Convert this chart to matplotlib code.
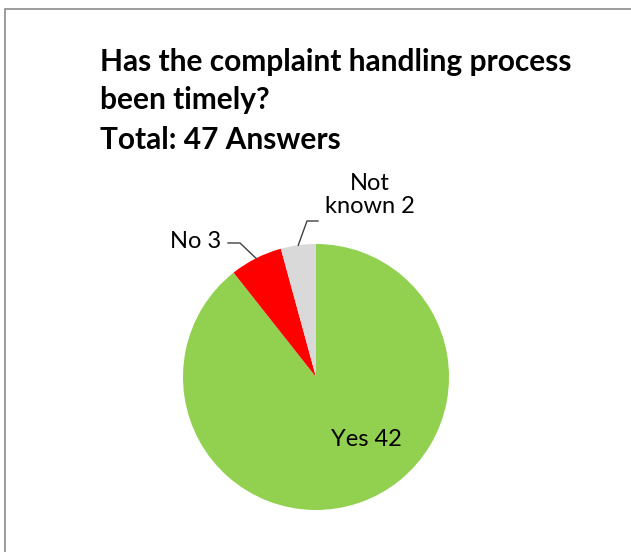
import numpy as np
import matplotlib
matplotlib.use("Agg")
import matplotlib.pyplot as plt
from matplotlib.patches import Rectangle

categories = ["Yes", "No", "Not known"]
values = [42, 3, 2]
colors = ["#92D050", "#FF0000", "#D9D9D9"]
title_lines = ["Has the complaint handling process", "been timely?", "Total: 47 Answers"]

W, H = 631, 552
plt.rcParams['font.family'] = ['Lato', 'DejaVu Sans']
fig = plt.figure(figsize=(W / 100, H / 100), dpi=100)

cx, cy, R = 316, 377, 133
ax = fig.add_axes([0, 0, 1, 1])

wedges, _ = ax.pie(values, colors=colors, startangle=90, counterclock=False,
                   radius=1.0, center=(0, 0), frame=True,
                   wedgeprops=dict(linewidth=0))
ax.set_xlim(-cx / R, (W - cx) / R)
ax.set_ylim((cy - H) / R, cy / R)
ax.set_aspect('equal')
ax.axis('off')

def px(x, y):
    return ((x - cx) / R, (cy - y) / R)

def mid_edge(w, r=1.0):
    a = np.deg2rad((w.theta1 + w.theta2) / 2)
    return r * np.cos(a), r * np.sin(a)

fs_lab = 17
# Yes label
ax.text(*px(366, 440), f"{categories[0]} {values[0]}", ha='center', va='center', fontsize=fs_lab)
# No label
ax.text(*px(221, 241), f"{categories[1]} {values[1]}", ha='right', va='center', fontsize=fs_lab)
e = mid_edge(wedges[1])
p1, p2 = px(228, 243), px(240, 243)
ax.plot([p1[0], p2[0], e[0]], [p1[1], p2[1], e[1]], color='#404040', lw=1)
# Not known label
ax.text(*px(370, 195), "Not\nknown " + str(values[2]), ha='center', va='center',
        fontsize=fs_lab, linespacing=1.1)
e = mid_edge(wedges[2])
p1, p2 = px(318, 221), px(307, 221)
ax.plot([p1[0], p2[0], e[0]], [p1[1], p2[1], e[1]], color='#404040', lw=1)

# Title
for t, y in zip(title_lines, [62, 100, 140]):
    fig.text(100 / W, 1 - y / H, t, ha='left', va='center', fontsize=21.5, fontweight='bold')

# border
fig.patches.append(Rectangle((4.5 / W, -0.1), 2, 1.1 - 8.5 / H, transform=fig.transFigure,
                             fill=False, edgecolor='#8C8C8C', lw=1.2))

fig.savefig("out.png", dpi=100)
